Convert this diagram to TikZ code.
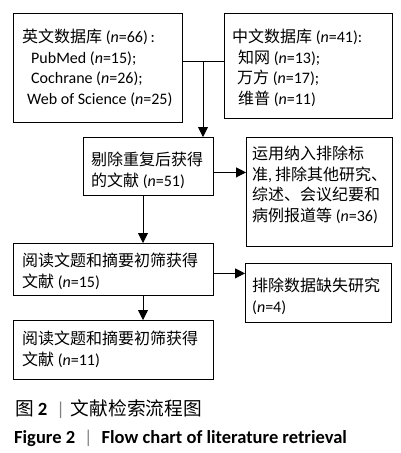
\documentclass[tikz,border=0pt]{standalone}
\usepackage{fontspec}
\setmainfont{Carlito}
\newfontfamily\cjk{Noto Sans CJK SC}
\usetikzlibrary{arrows.meta}
\newcommand{\zh}[1]{{\cjk #1}}
\newcommand{\nn}{\textit{n}}
\tikzset{
  box/.style={draw, line width=0.8pt, anchor=north west, inner sep=0pt},
  txt/.style={anchor=north west, inner sep=0pt, align=left, font=\fontsize{16}{20.5}\selectfont},
  arr/.style={line width=0.8pt, -{Triangle[length=10pt,width=10pt]}},
  ln/.style={line width=0.8pt},
}
\begin{document}
\begin{tikzpicture}[x=1pt,y=-1pt]
\useasboundingbox (0,0) rectangle (400,453);
% boxes
\node[box, minimum width=169pt, minimum height=109pt] (b1) at (13,13) {};
\node[box, minimum width=168pt, minimum height=105pt] (b2) at (224,13) {};
\node[box, minimum width=130pt, minimum height=58pt] (b3) at (83,137) {};
\node[box, minimum width=146pt, minimum height=109pt] (b4) at (246,137) {};
\node[box, minimum width=200pt, minimum height=52pt] (b5) at (13,243) {};
\node[box, minimum width=146pt, minimum height=59pt] (b6) at (245,263) {};
\node[box, minimum width=200pt, minimum height=59pt] (b7) at (13,320) {};
% texts
\node[txt] (t1) at (22,29) {\zh{英文数据库} (\nn=66)\,:\\
\hspace*{9pt}PubMed (\nn=15);\\
\hspace*{9pt}Cochrane (\nn=26);\\
\hspace*{5pt}Web of Science (\nn=25)};
\node[txt] (t2) at (232,29) {\zh{中文数据库} (\nn=41):\\
\hspace*{6pt}\zh{知网} (\nn=13);\\
\hspace*{5pt}\zh{万方} (\nn=17);\\
\hspace*{6pt}\zh{维普} (\nn=11)};
\node[txt] (t3) at (91,152) {\zh{剔除重复后获得}\\\zh{的文献} (\nn=51)};
\node[txt] (t4) at (252,146) {\zh{运用纳入排除标}\\\zh{准},\hspace{3pt}\zh{排除其他研究、}\\\zh{综述、会议纪要和}\\\zh{病例报道等} (\nn=36)};
\node[txt] (t5) at (22,253) {\zh{阅读文题和摘要初筛获得}\\\zh{文献} (\nn=15)};
\node[txt] (t6) at (252,278) {\zh{排除数据缺失研究}\\(\nn=4)};
\node[txt] (t7) at (22,331) {\zh{阅读文题和摘要初筛获得}\\\zh{文献} (\nn=11)};
% connectors
\coordinate (j) at (203,61);
\coordinate (a3) at ([yshift=-6pt]b3.east);
\coordinate (a5) at ([yshift=-4pt]b5.east);
\coordinate (x1) at (143,0);
\draw[ln] (b1.east |- j) -- (b2.west |- j);
\draw[arr] (j) -- (j |- b3.north);
\draw[arr] (a3) -- (a3 -| b4.west);
\draw[arr] (b3.south -| x1) -- (b5.north -| x1);
\draw[arr] (a5) -- (a5 -| b6.west);
\draw[arr] (b5.south -| x1) -- (b7.north -| x1);
% caption
\node[anchor=base west, inner sep=0pt, font=\fontsize{18.7}{20}\selectfont] (c1) at (15,415)
 {\zh{图}\hspace{4pt}\textbf{2}\hspace{9pt}{\color{gray}\textbar}\hspace{6pt}\zh{文献检索流程图}};
\node[anchor=base west, inner sep=0pt, font=\fontsize{18.5}{20}\selectfont\bfseries] (c2) at (14,443)
 {Figure 2\hspace{9pt}{\color{gray}\mdseries\textbar}\hspace{9pt}Flow chart of literature retrieval};
\end{tikzpicture}
\end{document}
